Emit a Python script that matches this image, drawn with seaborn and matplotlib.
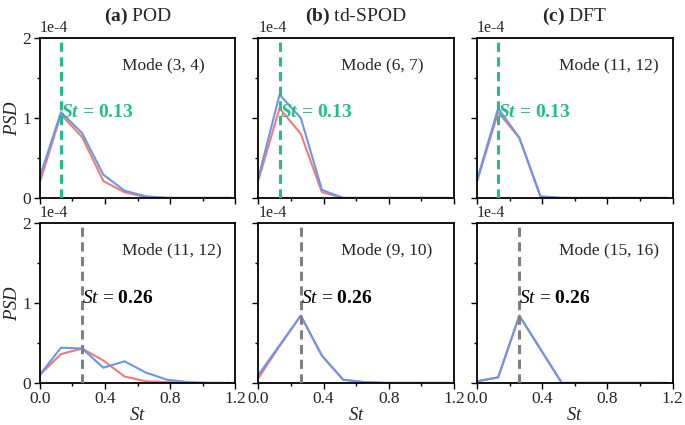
import numpy as np
import pandas as pd
import matplotlib
matplotlib.use("Agg")
import matplotlib.pyplot as plt
import seaborn as sns

sns.set_style("ticks")
plt.rcParams['font.family'] = ['Liberation Serif', 'DejaVu Serif']
plt.rcParams['mathtext.fontset'] = 'custom'
plt.rcParams['mathtext.rm'] = 'Liberation Serif'
plt.rcParams['mathtext.it'] = 'Liberation Serif:italic'
plt.rcParams['mathtext.bf'] = 'Liberation Serif:bold'
plt.rcParams['mathtext.bfit'] = 'Liberation Serif:italic:bold'

# Strouhal numbers sampled
st = [0.0, 0.13, 0.26, 0.39, 0.52, 0.65, 0.78, 0.91, 1.04, 1.17]

# PSD values (x 1e-4); first / second mode of each pair
pod_top_1 = [0.19, 1.04, 0.76, 0.21, 0.07, 0.01, 0.0, 0.0, 0.0, 0.0]
pod_top_2 = [0.26, 1.07, 0.81, 0.29, 0.09, 0.02, 0.0, 0.0, 0.0, 0.0]
spod_top_1 = [0.22, 1.12, 0.80, 0.07, 0.0, 0.0, 0.0, 0.0, 0.0, 0.0]
spod_top_2 = [0.25, 1.29, 1.00, 0.10, 0.0, 0.0, 0.0, 0.0, 0.0, 0.0]
dft_top_1 = [0.20, 1.07, 0.75, 0.01, 0.0, 0.0, 0.0, 0.0, 0.0, 0.0]
dft_top_2 = [0.22, 1.12, 0.75, 0.02, 0.0, 0.0, 0.0, 0.0, 0.0, 0.0]

pod_bot_1 = [0.10, 0.36, 0.43, 0.28, 0.08, 0.02, 0.01, 0.0, 0.0, 0.0]
pod_bot_2 = [0.10, 0.44, 0.43, 0.19, 0.27, 0.13, 0.04, 0.01, 0.0, 0.0]
spod_bot_1 = [0.06, 0.46, 0.84, 0.34, 0.04, 0.01, 0.0, 0.0, 0.0, 0.0]
spod_bot_2 = [0.10, 0.47, 0.84, 0.34, 0.04, 0.01, 0.0, 0.0, 0.0, 0.0]
dft_bot_1 = [0.02, 0.07, 0.84, 0.42, 0.0, 0.0, 0.0, 0.0, 0.0, 0.0]
dft_bot_2 = [0.02, 0.07, 0.84, 0.42, 0.0, 0.0, 0.0, 0.0, 0.0, 0.0]

titles = ["(a)", "(b)", "(c)"]
methods = ["POD", "td-SPOD", "DFT"]
modes_top = ["Mode (3, 4)", "Mode (6, 7)", "Mode (11, 12)"]
modes_bot = ["Mode (11, 12)", "Mode (9, 10)", "Mode (15, 16)"]
st_peak = [0.13, 0.26]
x_ticks = [0.0, 0.4, 0.8, 1.2]
x_minor = [0.2, 0.6, 1.0]
y_ticks = [0, 1, 2]
y_minor = [0.5, 1.5]

red = "#f07b7b"
blue = "#6a96ec"
green = "#1fbf8c"
grey = "#808080"

series = [
    [(pod_top_1, pod_top_2), (spod_top_1, spod_top_2), (dft_top_1, dft_top_2)],
    [(pod_bot_1, pod_bot_2), (spod_bot_1, spod_bot_2), (dft_bot_1, dft_bot_2)],
]
modes = [modes_top, modes_bot]

fig, axes = plt.subplots(2, 3, figsize=(6.85, 4.25), dpi=100)
fig.subplots_adjust(left=0.058, right=0.982, top=0.911, bottom=0.099,
                    wspace=0.117, hspace=0.156)

for r in range(2):
    for c in range(3):
        ax = axes[r, c]
        s1, s2 = series[r][c]
        df = pd.DataFrame({'St': st, 'a': s1, 'b': s2})
        sns.lineplot(data=df, x='St', y='a', color=red, lw=1.5, ax=ax)
        sns.lineplot(data=df, x='St', y='b', color=blue, lw=1.5, ax=ax)
        ax.set_xlim(0, 1.2)
        ax.set_ylim(0, 2)
        ax.set_xticks(x_ticks)
        ax.set_xticks(x_minor, minor=True)
        ax.set_yticks(y_ticks)
        ax.set_yticks(y_minor, minor=True)
        ax.tick_params(which='both', direction='out', labelsize=12.5, width=1,
                       color='black', pad=2)
        ax.tick_params(which='major', length=4)
        ax.tick_params(which='minor', length=2.5)
        for sp in ax.spines.values():
            sp.set_visible(True)
            sp.set_linewidth(1.3)
            sp.set_color('black')
        ax.set_xlabel('')
        ax.set_ylabel('')
        if r == 0:
            ax.set_xticklabels([])
            ax.set_title(r"$\mathbf{%s}$ %s" % (titles[c], methods[c]), fontsize=14, pad=12)
        else:
            ax.set_xticklabels(["0.0", "0.4", "0.8", "1.2"])
            ax.set_xlabel(r"$\mathit{St}$", fontsize=13.5, labelpad=0)
        if c == 0:
            ax.set_yticklabels(["0", "1", "2"])
            ax.set_ylabel(r"$\mathit{PSD}$", fontsize=13.5, labelpad=1)
        else:
            ax.set_yticklabels([])
        ax.text(0.0, 1.01, "1e-4", transform=ax.transAxes, fontsize=11.5,
                ha='left', va='bottom')
        ax.text(0.42, 0.83, modes[r][c], transform=ax.transAxes, fontsize=12.5,
                ha='left', va='center')
        vc = green if r == 0 else grey
        ax.axvline(st_peak[r], color=vc, ls=(0, (3, 1.8)), lw=2.2, zorder=3)
        if r == 0:
            ax.text(st_peak[r], 1.07, r"$\mathbfit{St}$ = 0.13", color=green,
                    fontsize=14, fontweight='bold', ha='left', va='center')
        else:
            ax.text(st_peak[r], 1.06, r"$\mathit{St}$ = $\mathbf{0.26}$",
                    color='black', fontsize=14, ha='left', va='center')

fig.savefig("out.png", dpi=100)
